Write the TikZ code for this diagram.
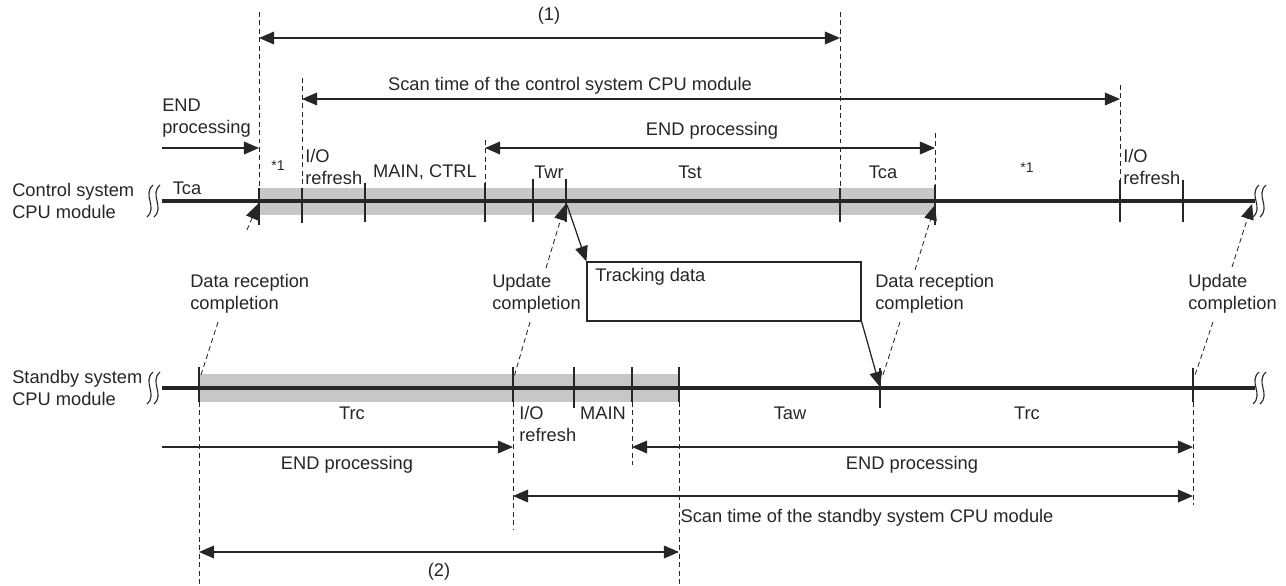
\documentclass[tikz,border=0pt]{standalone}
\usepackage{fontspec}
\setmainfont{Liberation Sans}
\usetikzlibrary{arrows.meta, calc}

% break mark at the ends of a time line
\newcommand{\cutmark}[2]{%
  \draw[cut] (#1+3,#2-16) .. controls (#1-8,#2-6) and (#1+8,#2+6) .. (#1-3,#2+16);
  \draw[cut] (#1+10,#2-16) .. controls (#1-1,#2-6) and (#1+15,#2+6) .. (#1+4,#2+16);}

\begin{document}
\begin{tikzpicture}[x=0.025cm, y=-0.025cm,
        every node/.style={font=\fontsize{13}{15.6}\selectfont, text=black!85, inner sep=0pt},
        timeline/.style={line width=2.2pt, black!85},
        busy/.style={fill=black!22},
        cut/.style={line width=0.8pt, black!85},
        tickline/.style={line width=0.8pt, black!85},
        guide/.style={dash pattern=on 3.5pt off 2.5pt, line width=0.6pt, black!85},
        dim/.style={{Triangle[length=3.8mm,width=3.2mm]}-{Triangle[length=3.8mm,width=3.2mm]}, line width=0.9pt, black!85},
        dimr/.style={-{Triangle[length=3.8mm,width=3.2mm]}, line width=0.9pt, black!85},
        leader/.style={guide, -{Triangle[length=3.8mm,width=3.2mm]}},
        note/.style={align=left, anchor=west},
        small/.style={font=\fontsize{10}{11}\selectfont},
        trackbox/.style={draw=black!85, line width=0.8pt, minimum width=6.85cm, minimum height=1.475cm}]

    \useasboundingbox (0,0) rectangle (1286,585);

    % busy periods
    \fill[busy] (259,188) rectangle (935,215);
    \fill[busy] (199,374) rectangle (679,402);

    % time lines
    \draw[timeline] (162,201) -- (1255,201);
    \draw[timeline] (162,388) -- (1255,388);
    \cutmark{150}{201}
    \cutmark{1256}{201}
    \cutmark{150}{388}
    \cutmark{1256}{388}

    \node[note] (ctrl) at (12,201) {Control system\\CPU module};
    \node[note] (stby) at (12,388) {Standby system\\CPU module};

    % control system ticks
    \draw[tickline] (259,188) -- (259,225);
    \draw[tickline] (302,188) -- (302,223);
    \draw[tickline] (365,183) -- (365,222);
    \draw[tickline] (485,183) -- (485,222);
    \draw[tickline] (533,179) -- (533,222);
    \draw[tickline] (566,179) -- (566,222);
    \draw[tickline] (840,188) -- (840,222);
    \draw[tickline] (935,185) -- (935,225);
    \draw[tickline] (1120,180) -- (1120,222);
    \draw[tickline] (1183,180) -- (1183,222);

    \draw[guide] (259,12) -- (259,188);
    \draw[guide] (840,12) -- (840,188);
    \draw[guide] (302,78) -- (302,188);
    \draw[guide] (1120,85) -- (1120,180);
    \draw[guide] (485,140) -- (485,183);
    \draw[guide] (935,133) -- (935,185);

    % standby system ticks
    \draw[tickline] (199,367) -- (199,402);
    \draw[tickline] (513,367) -- (513,402);
    \draw[tickline] (574,367) -- (574,408);
    \draw[tickline] (632,367) -- (632,402);
    \draw[tickline] (679,367) -- (679,402);
    \draw[tickline] (880,368) -- (880,408);
    \draw[tickline] (1193,368) -- (1193,402);

    \draw[guide] (199,402) -- (199,585);
    \draw[guide] (513,402) -- (513,530);
    \draw[guide] (632,402) -- (632,465);
    \draw[guide] (679,402) -- (679,585);
    \draw[guide] (1193,402) -- (1193,505);

    % control system labels
    \node (tca0) at (187,188) {Tca};
    \node[small] (nt1) at (278,166) {*1};
    \node[note] (io1) at (305,167) {I/O\\refresh};
    \node (mc) at (425,172) {MAIN, CTRL};
    \node (twr) at (549,172) {Twr};
    \node (tst) at (690,172) {Tst};
    \node (tca1) at (883,172) {Tca};
    \node[small] (nt2) at (1027,168) {*1};
    \node[note] (io2) at (1123,167) {I/O\\refresh};

    % standby system labels
    \node (trc0) at (352,413) {Trc};
    \node[note] (io3) at (519,424) {I/O\\refresh};
    \node (mn) at (603,413) {MAIN};
    \node (taw) at (790,413) {Taw};
    \node (trc1) at (1027,413) {Trc};

    % spans above
    \coordinate (p1a) at (259,38);  \coordinate (p1b) at (840,38);
    \draw[dim] (p1a) -- (p1b);
    \node (p1) at (549,16) {(1)};

    \coordinate (sca) at (302,99);  \coordinate (scb) at (1120,99);
    \draw[dim] (sca) -- (scb);
    \node (sc) at (570,86) {Scan time of the control system CPU module};

    \coordinate (eca) at (485,148); \coordinate (ecb) at (935,148);
    \draw[dim] (eca) -- (ecb);
    \node (ec) at (712,131) {END processing};

    \coordinate (e0a) at (162,148); \coordinate (e0b) at (259,148);
    \draw[dimr] (e0a) -- (e0b);
    \node[note] (e0) at (162,118) {END\\processing};

    % spans below
    \coordinate (e1a) at (162,447); \coordinate (e1b) at (513,447);
    \draw[dimr] (e1a) -- (e1b);
    \node (e1) at (347,465) {END processing};

    \coordinate (e2a) at (632,447); \coordinate (e2b) at (1193,447);
    \draw[dim] (e2a) -- (e2b);
    \node (e2) at (912,465) {END processing};

    \coordinate (ssa) at (513,496); \coordinate (ssb) at (1193,496);
    \draw[dim] (ssa) -- (ssb);
    \node (ss) at (867,518) {Scan time of the standby system CPU module};

    \coordinate (p2a) at (199,552); \coordinate (p2b) at (679,552);
    \draw[dim] (p2a) -- (p2b);
    \node (p2) at (439,572) {(2)};

    % completion notes
    \node[note] (drc1) at (190,294) {Data reception\\completion};
    \node[note] (upd1) at (492,294) {Update\\completion};
    \node[note] (drc2) at (875,294) {Data reception\\completion};
    \node[note] (upd2) at (1188,294) {Update\\completion};

    \coordinate (d1u) at (247,230);  \coordinate (d1t) at (258,204);
    \coordinate (d1d) at (218,322);  \coordinate (d1s) at (200,378);
    \draw[leader] (d1u) -- (d1t);
    \draw[guide] (d1d) -- (d1s);

    \coordinate (u1u) at (546,268);  \coordinate (u1t) at (565,205);
    \coordinate (u1d) at (530,322);  \coordinate (u1s) at (514,377);
    \draw[leader] (u1u) -- (u1t);
    \draw[guide] (u1d) -- (u1s);

    \coordinate (d2u) at (915,270);  \coordinate (d2t) at (935,205);
    \coordinate (d2d) at (900,322);  \coordinate (d2s) at (882,378);
    \draw[leader] (d2u) -- (d2t);
    \draw[guide] (d2d) -- (d2s);

    \coordinate (u2u) at (1232,267); \coordinate (u2t) at (1252,204);
    \coordinate (u2d) at (1213,322); \coordinate (u2s) at (1194,378);
    \draw[leader] (u2u) -- (u2t);
    \draw[guide] (u2d) -- (u2s);

    % tracking data transfer
    \node[trackbox] (trk) at (724,291.5) {};
    \node[anchor=west] (trktxt) at (595,277) {Tracking data};
    \coordinate (tsend) at (567,205);
    \coordinate (trecv) at (880,387);
    \draw[dimr] (tsend) -- (trk.north west);
    \draw[dimr] (trk.south east) -- (trecv);
\end{tikzpicture}
\end{document}
